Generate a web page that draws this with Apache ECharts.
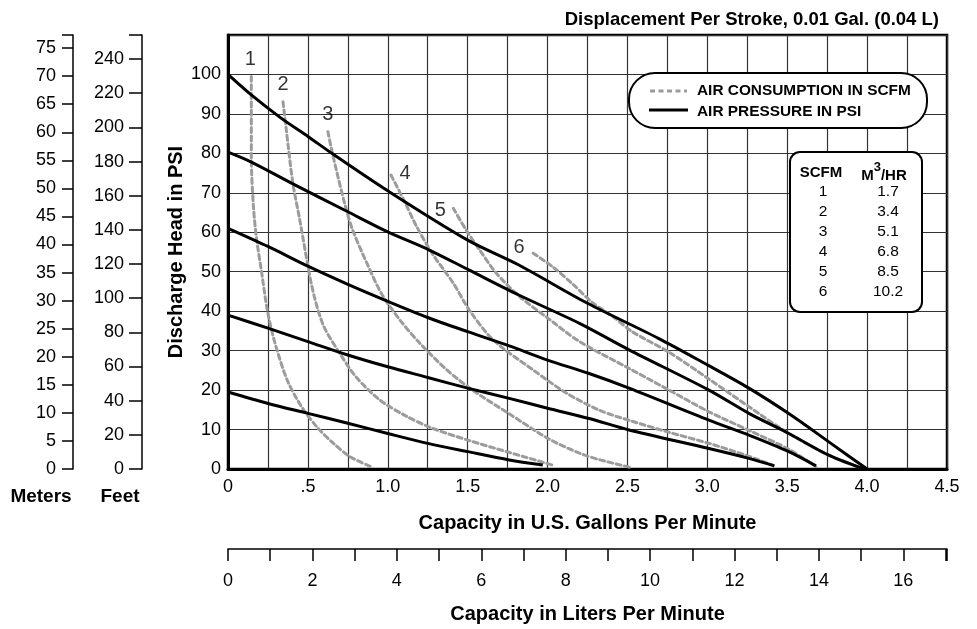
<!DOCTYPE html>
<html>
<head>
<meta charset="utf-8">
<script src="https://cdn.jsdelivr.net/npm/echarts@6/dist/echarts.min.js"></script>
<style>
  html, body { margin: 0; padding: 0; background: #fff; }
  #main { width: 977px; height: 629px; }
</style>
</head>
<body>
<div id="main"></div>
<script>
// pump curves, [gpm, psi]
var psi100 = [[0, 100], [0.14, 95], [0.33, 89], [0.5, 84.3], [0.65, 80], [1.0, 70.5], [1.5, 58], [1.82, 51.7], [2.25, 42], [2.7, 33], [3.0, 26.4], [3.26, 20.5], [3.53, 13.5], [3.78, 6.3], [4.0, 0]];
var psi80 = [[0, 80.3], [0.14, 77.9], [0.4, 72.4], [0.75, 65.2], [1.0, 60.1], [1.26, 55.5], [1.51, 50.4], [1.82, 44.1], [2.2, 36.9], [2.51, 30.2], [3.01, 20], [3.26, 14.1], [3.51, 9], [3.76, 3.5], [3.98, 0]];
var psi60 = [[0, 61], [0.25, 56.4], [0.5, 51.4], [0.75, 46.8], [1.0, 42.5], [1.25, 38.4], [1.5, 34.8], [1.76, 31.2], [2.0, 27.6], [2.26, 24.2], [2.51, 20.5], [3.01, 12.4], [3.26, 8.6], [3.51, 4.4], [3.68, 0.8]];
var psi40 = [[0, 39], [0.25, 35.7], [0.5, 32.3], [0.75, 28.9], [1.0, 25.9], [1.25, 23.2], [1.5, 20.5], [1.76, 17.9], [2.0, 15.4], [2.26, 12.8], [2.51, 9.9], [3.01, 5.2], [3.26, 2.7], [3.42, 0.8]];
var psi20 = [[0, 19.5], [0.25, 16.6], [0.5, 14.1], [0.75, 11.6], [1.0, 9.0], [1.25, 6.5], [1.5, 4.4], [1.76, 2.3], [1.97, 1.0]];

// air consumption curves (SCFM)
var scfm1 = [[0.146, 99.5], [0.146, 79], [0.16, 66], [0.18, 58], [0.21, 50], [0.245, 40.5], [0.29, 32.5], [0.37, 22.6], [0.46, 15.8], [0.56, 10.5], [0.66, 6.5], [0.76, 3.2], [0.9, 0.5]];
var scfm2 = [[0.344, 93.1], [0.365, 85.9], [0.406, 72.4], [0.45, 63], [0.5, 51.5], [0.54, 43.7], [0.6, 36.1], [0.7, 29.3], [0.8, 23.4], [0.95, 17.5], [1.12, 13.3], [1.28, 10.3], [1.51, 7.2], [1.76, 4.2], [2.03, 1.0]];
var scfm3 = [[0.625, 85.5], [0.656, 79.6], [0.73, 67.3], [0.78, 60.6], [0.87, 52.1], [0.96, 44.5], [1.075, 37.8], [1.2, 31.9], [1.37, 25.1], [1.53, 20], [1.76, 14], [2.0, 7.8], [2.2, 4.0], [2.33, 2.3], [2.53, 0.3]];
var scfm4 = [[1.02, 74.5], [1.1, 68.2], [1.18, 61.5], [1.28, 54.5], [1.41, 47.1], [1.51, 40.3], [1.66, 32.7], [1.91, 25.1], [2.12, 19.2], [2.33, 14.8], [2.53, 12.1], [2.76, 9.3], [3.01, 6.5], [3.24, 3.5], [3.41, 1.0]];
var scfm5 = [[1.41, 66.1], [1.49, 60.6], [1.575, 55.5], [1.68, 49.6], [1.825, 43.7], [1.99, 38.6], [2.2, 32.3], [2.51, 25.5], [2.76, 20], [3.01, 14.5], [3.26, 9.8], [3.51, 5], [3.68, 0.6]];
var scfm6 = [[1.91, 54.7], [2.03, 51.3], [2.16, 46.8], [2.28, 42.2], [2.41, 38.6], [2.53, 34.8], [2.76, 29.6], [3.01, 22.8], [3.26, 15.8], [3.51, 9], [3.76, 3.5], [3.96, 0.3]];

var pressureLines = [psi100, psi80, psi60, psi40, psi20];
var airLines = [scfm1, scfm2, scfm3, scfm4, scfm5, scfm6];
var airNames = ['1', '2', '3', '4', '5', '6'];
var labelOffsets = [[-1, -17], [0, -17], [0, -17], [14, -2], [-13, 2], [-14, -6]];

var tableScfm = ['1', '2', '3', '4', '5', '6'];
var tableM3hr = ['1.7', '3.4', '5.1', '6.8', '8.5', '10.2'];

var PSI_MAX = 110;
var GPM_MAX = 4.5;
var L_PER_GAL = 3.78541;

var FONT = "'Liberation Sans', Arial, sans-serif";

var myChart = echarts.init(document.getElementById('main'));

var series = [];
airLines.forEach(function (d) {
  series.push({
    type: 'line', name: 'AIR CONSUMPTION IN SCFM', data: d, smooth: 0.3,
    symbol: 'none', xAxisIndex: 0, yAxisIndex: 0,
    lineStyle: { color: '#9c9c9c', width: 3, type: [5, 3.5], cap: 'round' },
    z: 3
  });
});
pressureLines.forEach(function (d) {
  series.push({
    type: 'line', name: 'AIR PRESSURE IN PSI', data: d, smooth: 0.3,
    symbol: 'none', xAxisIndex: 0, yAxisIndex: 0,
    lineStyle: { color: '#000', width: 3 },
    z: 4
  });
});
// curve numbers at the top end of each air curve
series.push({
  type: 'scatter', symbolSize: 0, xAxisIndex: 0, yAxisIndex: 0, z: 5, silent: true,
  data: airLines.map(function (d, i) {
    return {
      value: d[0],
      label: {
        show: true, formatter: airNames[i], position: 'inside', offset: labelOffsets[i],
        color: '#000', fontSize: 20, fontFamily: FONT
      }
    };
  })
});

var numLabel = { color: '#000', fontSize: 18, fontFamily: FONT };
var titleText = { color: '#000', fontSize: 20, fontWeight: 'bold', fontFamily: FONT };

var graphics = [
  { type: 'text', x: 41, y: 497, style: { text: 'Meters', fill: '#000', font: 'bold 19px ' + FONT, align: 'center', verticalAlign: 'middle' } },
  { type: 'text', x: 120, y: 497, style: { text: 'Feet', fill: '#000', font: 'bold 19px ' + FONT, align: 'center', verticalAlign: 'middle' } },
  // legend
  { type: 'rect', shape: { x: 629, y: 73, width: 298, height: 55, r: 26 }, style: { fill: '#fff', stroke: '#000', lineWidth: 2 }, z: 10 },
  { type: 'line', shape: { x1: 650, y1: 91, x2: 687, y2: 91 }, style: { stroke: '#9c9c9c', lineWidth: 3, lineDash: [5, 3.5] }, z: 11 },
  { type: 'line', shape: { x1: 649, y1: 110, x2: 688, y2: 110 }, style: { stroke: '#000', lineWidth: 3 }, z: 11 },
  { type: 'text', x: 697, y: 91, style: { text: 'AIR CONSUMPTION IN SCFM', fill: '#000', font: 'bold 15.4px ' + FONT, verticalAlign: 'middle' }, z: 11 },
  { type: 'text', x: 697, y: 112, style: { text: 'AIR PRESSURE IN PSI', fill: '#000', font: 'bold 15.4px ' + FONT, verticalAlign: 'middle' }, z: 11 },
  // scfm table
  { type: 'rect', shape: { x: 790, y: 152, width: 132, height: 160, r: 10 }, style: { fill: '#fff', stroke: '#000', lineWidth: 2 }, z: 10 },
  { type: 'text', x: 821, y: 173, style: { text: 'SCFM', fill: '#000', font: 'bold 15px ' + FONT, align: 'center', verticalAlign: 'middle' }, z: 11 },
  {
    type: 'text', x: 884, y: 172, z: 11,
    style: {
      text: '{a|M}{s|3}{a|/HR}', align: 'center', verticalAlign: 'middle',
      rich: {
        a: { fill: '#000', font: 'bold 15px ' + FONT, lineHeight: 22, verticalAlign: 'bottom' },
        s: { fill: '#000', font: 'bold 13px ' + FONT, lineHeight: 22, verticalAlign: 'top' }
      }
    }
  }
];
tableScfm.forEach(function (s, i) {
  graphics.push({ type: 'text', x: 823, y: 192 + i * 20, z: 11, style: { text: s, fill: '#000', font: '15.5px ' + FONT, align: 'center', verticalAlign: 'middle' } });
  graphics.push({ type: 'text', x: 888, y: 192 + i * 20, z: 11, style: { text: tableM3hr[i], fill: '#000', font: '15.5px ' + FONT, align: 'center', verticalAlign: 'middle' } });
});

var option = {
  animation: false,
  backgroundColor: '#fff',
  title: {
    text: 'Displacement Per Stroke, 0.01 Gal. (0.04 L)',
    right: 33, top: 5,
    textStyle: { color: '#000', fontSize: 18.5, fontWeight: 'bold', fontFamily: FONT }
  },
  grid: [
    { left: 228, right: 30, top: 35, bottom: 160, show: true, borderColor: '#000', borderWidth: 2.5, backgroundColor: 'transparent' },
    { left: 228, right: 30, top: 420, bottom: 80 }
  ],
  xAxis: [
    {
      type: 'value', gridIndex: 0, min: 0, max: GPM_MAX, interval: 0.25,
      axisLine: { lineStyle: { color: '#000', width: 3 } },
      axisTick: { show: false },
      splitLine: { show: true, lineStyle: { color: '#333', width: 1.2 } },
      axisLabel: Object.assign({ margin: 9, formatter: function (v) {
        if (v === 0) return '0';
        if (Math.abs(v - 0.5) < 1e-9) return '.5';
        if (Math.abs(v * 2 - Math.round(v * 2)) < 1e-9) return v.toFixed(1);
        return '';
      } }, numLabel),
      name: 'Capacity in U.S. Gallons Per Minute', nameLocation: 'middle', nameGap: 44,
      nameTextStyle: titleText
    },
    {
      type: 'value', gridIndex: 1, min: 0, max: GPM_MAX * L_PER_GAL, interval: 1,
      axisLine: { onZero: false, lineStyle: { color: '#000', width: 1.5 } },
      axisTick: { show: true, length: 12, lineStyle: { color: '#000', width: 1.5 } },
      splitLine: { show: false },
      axisLabel: Object.assign({ margin: 23, formatter: function (v) {
        return (Math.abs(v - Math.round(v)) < 1e-9 && Math.round(v) % 2 === 0) ? String(Math.round(v)) : '';
      } }, numLabel),
      name: 'Capacity in Liters Per Minute', nameLocation: 'middle', nameGap: 55,
      nameTextStyle: titleText
    }
  ],
  yAxis: [
    {
      type: 'value', gridIndex: 0, min: 0, max: PSI_MAX, interval: 10,
      axisLine: { lineStyle: { color: '#000', width: 3 } },
      axisTick: { show: false },
      splitLine: { show: true, lineStyle: { color: '#333', width: 1.2 } },
      axisLabel: Object.assign({ margin: 7, formatter: function (v) { return v <= 100 ? String(v) : ''; } }, numLabel),
      name: 'Discharge Head in PSI', nameLocation: 'middle', nameGap: 42, nameRotate: 90,
      nameMoveOverlap: false,
      nameTextStyle: titleText
    },
    {
      // meters of water
      type: 'value', gridIndex: 0, position: 'left', offset: 155, min: 0, max: PSI_MAX * 0.70307, interval: 5,
      axisLine: { show: true, lineStyle: { color: '#000', width: 1.5 } },
      axisTick: { show: true, length: 11, lineStyle: { color: '#000', width: 1.5 } },
      splitLine: { show: false },
      axisLabel: Object.assign({ margin: 17, formatter: function (v) { return v % 5 === 0 ? String(v) : ''; } }, numLabel)
    },
    {
      // feet of water
      type: 'value', gridIndex: 0, position: 'left', offset: 86, min: 0, max: PSI_MAX * 2.31, interval: 20,
      axisLine: { show: true, lineStyle: { color: '#000', width: 1.5 } },
      axisTick: { show: true, length: 13, lineStyle: { color: '#000', width: 1.5 } },
      splitLine: { show: false },
      axisLabel: Object.assign({ margin: 18, formatter: function (v) { return v % 20 === 0 ? String(v) : ''; } }, numLabel)
    },
    { type: 'value', gridIndex: 1, show: false, min: 0, max: 1 }
  ],
  series: series,
  graphic: graphics
};

myChart.setOption(option);
</script>
</body>
</html>
